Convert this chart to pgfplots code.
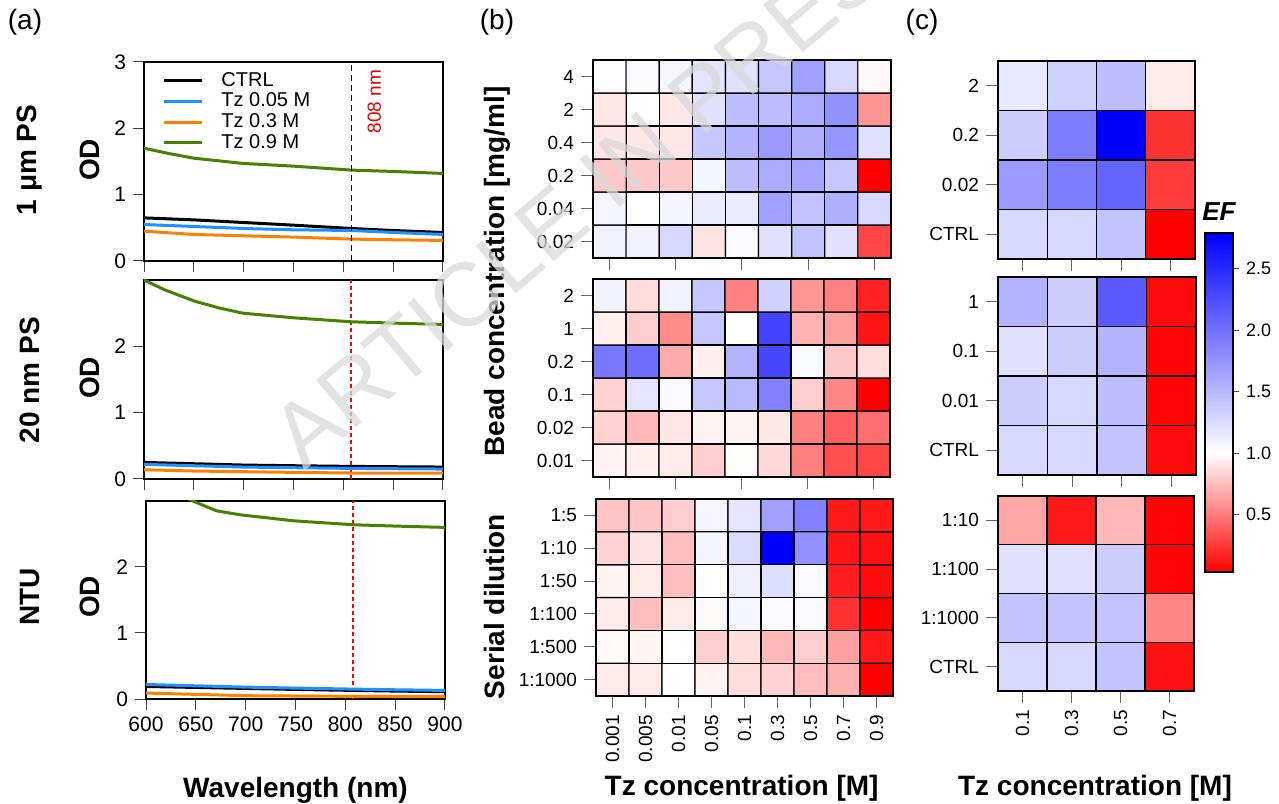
\documentclass[border=0pt]{standalone}
\usepackage{pgfplots}
\pgfplotsset{compat=1.18}
\usepackage{fontspec}
\setmainfont{Liberation Sans}
\setsansfont{Liberation Sans}
\definecolor{cblue}{RGB}{30,144,255}
\definecolor{corange}{RGB}{255,127,0}
\definecolor{cgreen}{RGB}{70,130,0}
\definecolor{cred}{RGB}{235,0,0}
\pgfplotsset{
  colormap={ef}{rgb255(0)=(255,0,0) rgb255(97)=(255,255,255) rgb255(276)=(0,0,255)},
  lineax/.style={
    scale only axis, width=149.5pt, height=99.5pt,
    xmin=600, xmax=900, ymin=0, ymax=3,
    xtick={600,650,...,900}, ytick={0,1,2},
    tick align=outside, tick pos=left,
    major tick length=5.5pt,
    tick style={black!75, line width=0.5pt},
    axis line style={line width=0.6pt},
    ticklabel style={font=\fontsize{10.5}{12}\selectfont},
    /pgf/number format/assume math mode=true,
  },
  heat/.style={
    scale only axis, enlargelimits=false,
    colormap name=ef, point meta min=0.03, point meta max=2.79,
    tick align=outside, tick pos=left, major tick length=6pt,
    tick style={black!60, line width=0.5pt},
    axis line style={line width=0.8pt},
    ticklabel style={font=\fontsize{9.5}{11}\selectfont},
    xticklabel style={rotate=90, anchor=east},
    axis on top,
  },
  heatb/.style={heat, xmin=-0.5, xmax=8.5, ymin=-0.5, ymax=5.5, ytick={0,...,5}},
  heatc/.style={heat, xmin=-0.5, xmax=3.5, ymin=-0.5, ymax=3.5, ytick={0,...,3}, xtick={0,...,3}},
  cell/.style={matrix plot*, point meta=explicit, draw=black, line width=0.6pt},
  vred/.style={red, line width=0.9pt, dash pattern=on 2pt off 1.5pt},
}
\begin{document}
\begin{tikzpicture}
\useasboundingbox (0,0) rectangle (639.5pt,401.5pt);
% ---------------- (a) top
\begin{axis}[lineax, at={(72pt,271pt)}, anchor=south west, xticklabels={}, ytick={0,1,2,3},
  legend style={draw=none, fill=none, at={(0,1)}, anchor=north west, xshift=9pt, yshift=-3pt, inner xsep=0pt, inner ysep=0pt, font=\fontsize{10}{11}\selectfont, row sep=-2.2pt},
  legend cell align=left,
  legend image code/.code={\draw[#1] (0pt,0pt) -- (19pt,0pt); \path (26pt,0pt);}]
\addplot[black, line width=1.5pt] coordinates {(600,0.65) (625,0.635) (650,0.62) (700,0.58) (750,0.54) (808,0.49) (850,0.46) (900,0.43)};
\addlegendentry{CTRL}
\addplot[cblue, line width=1.5pt] coordinates {(600,0.55) (650,0.52) (700,0.49) (750,0.47) (808,0.46) (850,0.43) (900,0.40)};
\addlegendentry{Tz 0.05 M}
\addplot[corange, line width=1.5pt] coordinates {(600,0.45) (650,0.40) (700,0.38) (750,0.36) (808,0.33) (850,0.32) (900,0.31)};
\addlegendentry{Tz 0.3 M}
\addplot[cgreen, line width=1.5pt] coordinates {(600,1.70) (625,1.62) (650,1.55) (700,1.47) (750,1.43) (808,1.37) (850,1.35) (900,1.32)};
\addlegendentry{Tz 0.9 M}
\addplot[black, densely dashed, line width=0.4pt, forget plot] coordinates {(808,0) (808,3)};
\node[rotate=90, text=cred, font=\fontsize{9.5}{11}\selectfont] at (axis cs:831,2.40) {808 nm};
\end{axis}
% ---------------- (a) middle
\begin{axis}[lineax, at={(72pt,162pt)}, anchor=south west, xticklabels={}]
\addplot[vred] coordinates {(808,0) (808,3)};
\addplot[black, line width=1.5pt] coordinates {(600,0.25) (650,0.23) (700,0.21) (750,0.20) (808,0.19) (850,0.185) (900,0.18)};
\addplot[cblue, line width=1.5pt] coordinates {(600,0.22) (650,0.20) (700,0.18) (750,0.17) (808,0.16) (850,0.155) (900,0.15)};
\addplot[corange, line width=1.5pt] coordinates {(600,0.14) (650,0.12) (700,0.11) (750,0.10) (808,0.09) (900,0.09)};
\addplot[cgreen, line width=1.5pt] coordinates {(600,3.0) (621,2.85) (651,2.68) (675,2.58) (699,2.50) (750,2.43) (808,2.37) (850,2.35) (900,2.33)};
\end{axis}
% ---------------- (a) bottom
\begin{axis}[lineax, at={(73pt,52pt)}, anchor=south west, height=99pt,
  xlabel={Wavelength (nm)}, xlabel style={font=\bfseries\fontsize{14}{16}\selectfont, yshift=-16pt}]
\addplot[vred] coordinates {(808,0) (808,3)};
\addplot[black, line width=1.5pt] coordinates {(600,0.19) (650,0.175) (700,0.16) (750,0.145) (808,0.13) (850,0.12) (900,0.11)};
\addplot[cblue, line width=1.5pt] coordinates {(600,0.22) (650,0.20) (700,0.18) (750,0.165) (808,0.15) (850,0.14) (900,0.13)};
\addplot[corange, line width=1.5pt] coordinates {(600,0.09) (650,0.07) (700,0.05) (750,0.045) (808,0.04) (900,0.035)};
\addplot[cgreen, line width=1.5pt] coordinates {(640,3.05) (647,3.0) (671,2.85) (695,2.79) (748,2.70) (808,2.64) (850,2.62) (900,2.60)};
\end{axis}
% ---------------- (b) top
\begin{axis}[heatb, at={(296.5pt,272.5pt)}, anchor=south west, width=149pt, height=99pt,
  yticklabels={0.02,0.04,0.2,0.4,2,4}, xtick={0,2,4,6,8}, xticklabels={}]
\addplot[cell, mesh/cols=9] table[meta=c, row sep=\\] {
x y c\\
0 0 1.10\\ 1 0 1.10\\ 2 0 1.28\\ 3 0 0.89\\ 4 0 1.05\\ 5 0 1.21\\ 6 0 1.42\\ 7 0 1.21\\ 8 0 0.30\\
0 1 1.07\\ 1 1 1.00\\ 2 1 1.07\\ 3 1 1.14\\ 4 1 1.14\\ 5 1 1.67\\ 6 1 1.42\\ 7 1 1.56\\ 8 1 1.28\\
0 2 0.79\\ 1 2 0.79\\ 2 2 0.79\\ 3 2 1.07\\ 4 2 1.46\\ 5 2 1.60\\ 6 2 1.63\\ 7 2 1.39\\ 8 2 0.03\\
0 3 0.91\\ 1 3 0.91\\ 2 3 0.91\\ 3 3 1.39\\ 4 3 1.53\\ 5 3 1.70\\ 6 3 1.56\\ 7 3 1.74\\ 8 3 1.21\\
0 4 0.91\\ 1 4 1.00\\ 2 4 0.91\\ 3 4 1.21\\ 4 4 1.46\\ 5 4 1.46\\ 6 4 1.60\\ 7 4 1.77\\ 8 4 0.60\\
0 5 1.00\\ 1 5 1.03\\ 2 5 1.07\\ 3 5 1.19\\ 4 5 1.21\\ 5 5 1.39\\ 6 5 1.67\\ 7 5 1.28\\ 8 5 0.97\\
};
\end{axis}
% ---------------- (b) middle
\begin{axis}[heatb, at={(296.5pt,163pt)}, anchor=south west, width=148.5pt, height=99pt,
  yticklabels={0.01,0.02,0.1,0.2,1,2}, xtick={0,2,4,6,8}, xticklabels={}]
\addplot[cell, mesh/cols=9] table[meta=c, row sep=\\] {
x y c\\
0 0 0.95\\ 1 0 0.94\\ 2 0 0.92\\ 3 0 0.81\\ 4 0 0.99\\ 5 0 0.85\\ 6 0 0.51\\ 7 0 0.33\\ 8 0 0.30\\
0 1 0.83\\ 1 1 0.73\\ 2 1 0.90\\ 3 1 0.95\\ 4 1 0.95\\ 5 1 0.91\\ 6 1 0.51\\ 7 1 0.39\\ 8 1 0.45\\
0 2 0.83\\ 1 2 1.19\\ 2 2 1.04\\ 3 2 1.39\\ 4 2 1.49\\ 5 2 1.88\\ 6 2 0.81\\ 7 2 0.54\\ 8 2 0.03\\
0 3 1.95\\ 1 3 2.02\\ 2 3 0.68\\ 3 3 0.94\\ 4 3 1.53\\ 5 3 2.30\\ 6 3 1.05\\ 7 3 0.79\\ 8 3 0.87\\
0 4 0.94\\ 1 4 0.81\\ 2 4 0.56\\ 3 4 1.39\\ 4 4 1.00\\ 5 4 2.33\\ 6 4 0.71\\ 7 4 0.64\\ 8 4 0.11\\
0 5 1.09\\ 1 5 0.87\\ 2 5 1.09\\ 3 5 1.39\\ 4 5 0.52\\ 5 5 1.32\\ 6 5 0.60\\ 7 5 0.52\\ 8 5 0.16\\
};
\end{axis}
% ---------------- (b) bottom
\begin{axis}[heatb, at={(298pt,53.5pt)}, anchor=south west, width=148.5pt, height=98.5pt,
  yticklabels={1:1000,1:500,1:100,1:50,1:10,1:5}, xtick={0,...,8},
  xticklabels={0.001,0.005,0.01,0.05,0.1,0.3,0.5,0.7,0.9}]
\addplot[cell, mesh/cols=9] table[meta=c, row sep=\\] {
x y c\\
0 0 0.92\\ 1 0 0.92\\ 2 0 1.00\\ 3 0 0.95\\ 4 0 0.87\\ 5 0 0.83\\ 6 0 0.75\\ 7 0 0.70\\ 8 0 0.03\\
0 1 0.98\\ 1 1 0.96\\ 2 1 1.00\\ 3 1 0.81\\ 4 1 0.87\\ 5 1 0.73\\ 6 1 0.81\\ 7 1 0.64\\ 8 1 0.13\\
0 2 0.92\\ 1 2 0.75\\ 2 2 0.92\\ 3 2 0.98\\ 4 2 1.07\\ 5 2 1.04\\ 6 2 1.04\\ 7 2 0.22\\ 8 2 0.03\\
0 3 0.96\\ 1 3 0.92\\ 2 3 0.75\\ 3 3 1.00\\ 4 3 1.12\\ 5 3 1.23\\ 6 3 1.04\\ 7 3 0.14\\ 8 3 0.08\\
0 4 0.83\\ 1 4 0.89\\ 2 4 0.75\\ 3 4 1.07\\ 4 4 1.25\\ 5 4 2.79\\ 6 4 1.77\\ 7 4 0.11\\ 8 4 0.09\\
0 5 0.77\\ 1 5 0.77\\ 2 5 0.81\\ 3 5 1.07\\ 4 5 1.18\\ 5 5 1.67\\ 6 5 1.88\\ 7 5 0.13\\ 8 5 0.13\\
};
\end{axis}
% ---------------- (c) top
\begin{axis}[heatc, at={(499pt,272pt)}, anchor=south west, width=98.5pt, height=99pt,
  yticklabels={CTRL,0.02,0.2,2}, xticklabels={}]
\addplot[cell, mesh/cols=4] table[meta=c, row sep=\\] {
x y c\\
0 0 1.28\\ 1 0 1.28\\ 2 0 1.42\\ 3 0 0.03\\
0 1 1.70\\ 1 1 1.91\\ 2 1 2.09\\ 3 1 0.26\\
0 2 1.35\\ 1 2 1.91\\ 2 2 2.79\\ 3 2 0.22\\
0 3 1.16\\ 1 3 1.32\\ 2 3 1.46\\ 3 3 0.92\\
};
\end{axis}
% ---------------- (c) middle (with colour bar)
\begin{axis}[heatc, at={(499pt,164pt)}, anchor=south west, width=99pt, height=99pt,
  yticklabels={CTRL,0.01,0.1,1}, xticklabels={},
  colorbar,
  colorbar style={at={(parent axis.south east)}, anchor=south west, xshift=-4pt, yshift=-48.5pt,
    scale only axis, width=14pt, height=169.5pt,
    ytick={0.5,1,1.5,2,2.5}, ytick pos=right, tick align=outside, major tick length=3pt,
    tick style={black!70},
    axis line style={line width=0.6pt},
    yticklabel style={font=\fontsize{9}{10}\selectfont, /pgf/number format/.cd, fixed, fixed zerofill, precision=1, assume math mode=true}}]
\addplot[cell, mesh/cols=4] table[meta=c, row sep=\\] {
x y c\\
0 0 1.28\\ 1 0 1.28\\ 2 0 1.42\\ 3 0 0.07\\
0 1 1.35\\ 1 1 1.28\\ 2 1 1.46\\ 3 1 0.05\\
0 2 1.21\\ 1 2 1.35\\ 2 2 1.53\\ 3 2 0.05\\
0 3 1.53\\ 1 3 1.35\\ 2 3 2.16\\ 3 3 0.07\\
};
\end{axis}
% ---------------- (c) bottom
\begin{axis}[heatc, at={(499pt,56pt)}, anchor=south west, width=98pt, height=97.5pt,
  yticklabels={CTRL,1:1000,1:100,1:10}, xticklabels={0.1,0.3,0.5,0.7}]
\addplot[cell, mesh/cols=4] table[meta=c, row sep=\\] {
x y c\\
0 0 1.28\\ 1 0 1.28\\ 2 0 1.42\\ 3 0 0.09\\
0 1 1.42\\ 1 1 1.42\\ 2 1 1.42\\ 3 1 0.54\\
0 2 1.21\\ 1 2 1.21\\ 2 2 1.35\\ 3 2 0.05\\
0 3 0.66\\ 1 3 0.13\\ 2 3 0.73\\ 3 3 0.05\\
};
\end{axis}
% ---------------- labels
\node[font=\fontsize{14}{16}\selectfont] at (12.5pt,390.5pt) {(a)};
\node[font=\fontsize{14}{16}\selectfont] at (248.5pt,390.5pt) {(b)};
\node[font=\fontsize{14}{16}\selectfont] at (461pt,390.5pt) {(c)};
\node[rotate=90, font=\bfseries\fontsize{14}{16}\selectfont] at (15pt,321.5pt) {1 μm PS};
\node[rotate=90, font=\bfseries\fontsize{14}{16}\selectfont] at (15pt,211.5pt) {20 nm PS};
\node[rotate=90, font=\bfseries\fontsize{14}{16}\selectfont] at (15pt,103pt) {NTU};
\node[rotate=90, font=\bfseries\fontsize{14}{16}\selectfont] at (45pt,321.5pt) {OD};
\node[rotate=90, font=\bfseries\fontsize{14}{16}\selectfont] at (45pt,212.5pt) {OD};
\node[rotate=90, font=\bfseries\fontsize{14}{16}\selectfont] at (45pt,103pt) {OD};
\node[rotate=90, font=\bfseries\fontsize{14}{16}\selectfont] at (248.75pt,265.75pt) {Bead concentration [mg/ml]};
\node[rotate=90, font=\bfseries\fontsize{14}{16}\selectfont] at (247pt,98.25pt) {Serial dilution};
\node[font=\bfseries\fontsize{14}{16}\selectfont] at (370.8pt,7.5pt) {Tz concentration [M]};
\node[font=\bfseries\fontsize{14}{16}\selectfont] at (547.5pt,7.5pt) {Tz concentration [M]};
\node[font=\bfseries\itshape\fontsize{13}{15}\selectfont] at (609.5pt,295.5pt) {EF};
\node[rotate=40, text=black!15, opacity=0.75, font=\fontsize{45}{47}\selectfont] at (300pt,310pt) {ARTICLE IN PRESS};
\end{tikzpicture}
\end{document}
